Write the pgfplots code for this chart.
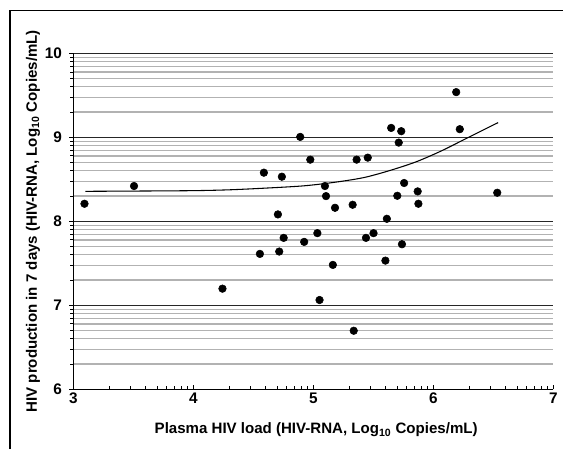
\documentclass[border=0pt]{standalone}
\usepackage{pgfplots}
\pgfplotsset{compat=1.18}
\usepackage{fontspec}
\setmainfont{Liberation Sans}
\begin{document}
\begin{tikzpicture}
\begin{axis}[
  at={(0,0)}, anchor=south west,
  scale only axis, width=360pt, height=252pt,
  xmin=3, xmax=7, ymin=6, ymax=10,
  axis x line*=bottom, axis y line*=left,
  axis line style={black, line width=0.9pt, -},
  xtick={3,4,5,6,7}, ytick={6,7,8,9,10},
  minor xtick={3.301,3.477,3.602,3.699,3.778,3.845,3.903,3.954,
               4.301,4.477,4.602,4.699,4.778,4.845,4.903,4.954,
               5.301,5.477,5.602,5.699,5.778,5.845,5.903,5.954,
               6.301,6.477,6.602,6.699,6.778,6.845,6.903,6.954},
  minor ytick={6.301,6.477,6.602,6.699,6.778,6.845,6.903,6.954,
               7.301,7.477,7.602,7.699,7.778,7.845,7.903,7.954,
               8.301,8.477,8.602,8.699,8.778,8.845,8.903,8.954,
               9.301,9.477,9.602,9.699,9.778,9.845,9.903,9.954},
  ymajorgrids, yminorgrids,
  major grid style={black!85, line width=1.1pt},
  minor grid style={black!30, line width=0.9pt},
  xtick align=inside, ytick align=outside,
  major tick length=3pt, minor tick length=2.4pt,
  tick style={black, line width=0.7pt},
  /pgf/number format/assume math mode=true,
  tick label style={font=\fontsize{11.5}{13}\selectfont\bfseries},
  xticklabel style={yshift=1pt},
  yticklabel style={xshift=-2pt},
  label style={font=\fontsize{11.3}{13}\selectfont\bfseries},
  xlabel={Plasma HIV load (HIV-RNA, Log\textsubscript{10} Copies/mL)},
  ylabel={HIV production in 7 days (HIV-RNA, Log\textsubscript{10} Copies/mL)},
  xlabel style={at={(axis description cs:0.506,-0.121)}, anchor=center},
  ylabel style={at={(axis description cs:-0.084,0.5)}, anchor=center, rotate=0},
  clip=false,
]
\addplot[black, line width=0.8pt, smooth] coordinates {
(3.1,8.357) (3.5,8.360) (4.0,8.365) (4.3,8.375) (4.6,8.395) (4.9,8.420)
(5.1,8.450) (5.3,8.490) (5.45,8.530) (5.65,8.610) (5.86,8.710)
(6.07,8.840) (6.28,8.990) (6.54,9.175)};
\addplot[only marks, mark=*, mark size=2.85pt, black] coordinates {
(3.093,8.209) (3.506,8.420) (4.243,7.198) (4.555,7.612) (4.588,8.579)
(4.716,7.640) (4.705,8.082) (4.738,8.531) (4.753,7.803) (4.891,9.005)
(4.924,7.755) (4.975,8.734) (5.034,7.859) (5.052,7.063) (5.097,8.420)
(5.106,8.300) (5.163,7.481) (5.181,8.161) (5.328,8.197) (5.337,6.697)
(5.361,8.734) (5.439,7.803) (5.454,8.758) (5.502,7.859) (5.601,7.532)
(5.613,8.030) (5.649,9.112) (5.700,8.304) (5.712,8.937) (5.733,9.073)
(5.739,7.727) (5.757,8.456) (5.870,8.356) (5.876,8.209) (6.191,9.538)
(6.221,9.097) (6.533,8.340)};
\end{axis}
\draw[black, line width=0.9pt] (-47.5pt,-44.8pt) -- (-47.5pt,284pt) -- (367.3pt,284pt);
\pgfresetboundingbox
\path[use as bounding box] (-55pt,-44.8pt) rectangle (367.3pt,292pt);
\end{tikzpicture}
\end{document}
